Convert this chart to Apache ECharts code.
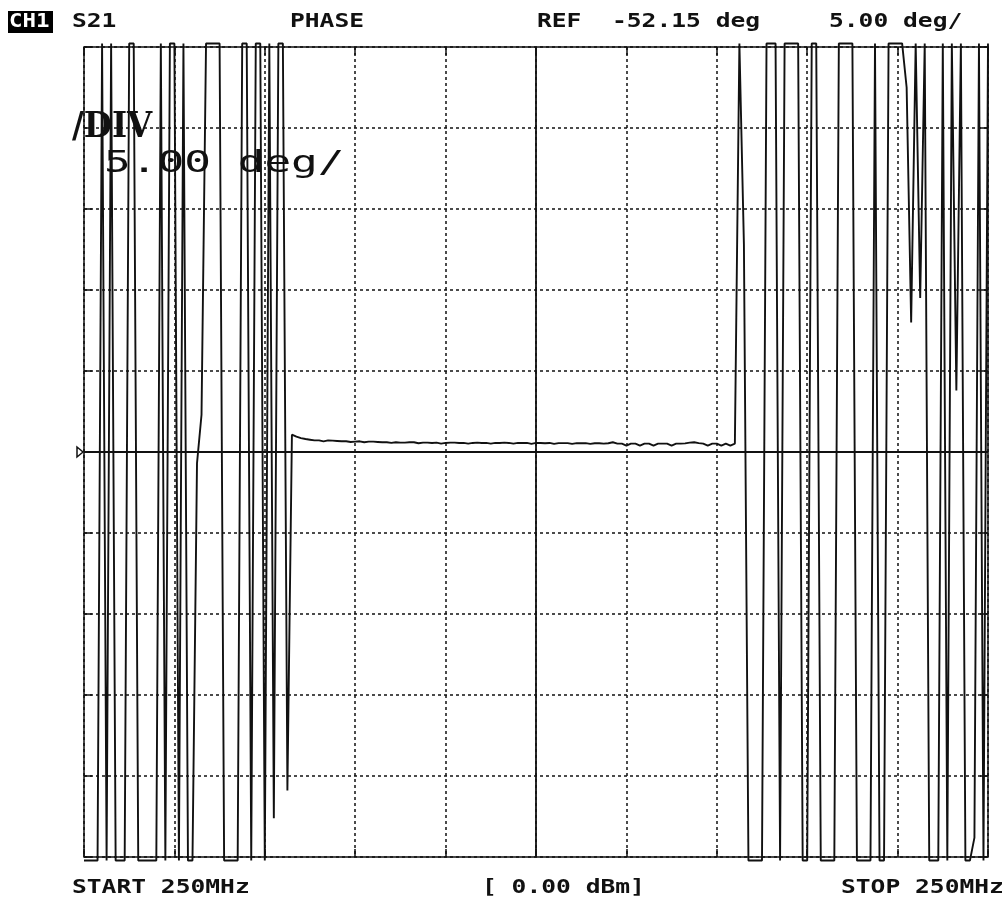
<!DOCTYPE html>
<html>
<head>
<meta charset="utf-8">
<script src="https://cdn.jsdelivr.net/npm/echarts@6/dist/echarts.min.js"></script>
<style>
  html, body { margin: 0; padding: 0; background: #fff; }
  #chart { width: 1008px; height: 902px; }
</style>
</head>
<body>
<div id="chart"></div>
<script>
// off-scale points are pinned just outside the graticule, like the analyzer does
var HI = 25.22, LO = -25.22;

// phase relative to REF (deg), one value per sweep point (201 points)
var leftWrap = [
  LO, LO, LO, LO, HI, LO, HI, LO, LO, LO,
  HI, HI, LO, LO, LO, LO, LO, HI, LO, HI,
  HI, LO, HI, LO, LO, -0.7, 2.3, HI, HI, HI,
  HI, LO, LO, LO, LO, HI, HI, LO, HI, HI,
  LO, HI, -22.6, HI, HI, -20.9
];
var flatTrace = [
  1.07, 0.95, 0.86, 0.80, 0.76, 0.72, 0.72, 0.66, 0.72, 0.70,
  0.68, 0.66, 0.66, 0.62, 0.64, 0.66, 0.60, 0.64, 0.64, 0.62,
  0.60, 0.60, 0.56, 0.60, 0.58, 0.58, 0.60, 0.60, 0.54, 0.58,
  0.58, 0.56, 0.58, 0.52, 0.56, 0.58, 0.58, 0.56, 0.56, 0.52,
  0.56, 0.58, 0.56, 0.56, 0.52, 0.56, 0.56, 0.58, 0.56, 0.52,
  0.56, 0.56, 0.56, 0.50, 0.56, 0.56, 0.54, 0.56, 0.50, 0.55,
  0.55, 0.55, 0.50, 0.55, 0.54, 0.55, 0.50, 0.54, 0.54, 0.52,
  0.54, 0.60, 0.52, 0.52, 0.40, 0.52, 0.52, 0.40, 0.52, 0.52,
  0.40, 0.52, 0.52, 0.52, 0.40, 0.52, 0.52, 0.53, 0.58, 0.60,
  0.55, 0.52, 0.40, 0.52, 0.52, 0.40, 0.52, 0.40, 0.52
];
var rightWrap = [
  HI, 12.8, LO, LO, LO, LO, HI, HI, HI, LO,
  HI, HI, HI, HI, LO, LO, HI, HI, LO, LO,
  LO, LO, HI, HI, HI, HI, LO, LO, LO, LO,
  HI, LO, LO, HI, HI, HI, HI, 22.5, 8.0, HI,
  9.5, HI, LO, LO, LO, HI, LO, HI, 3.8, HI,
  LO, LO, -23.8, HI, LO, HI
];
var traceDeg = leftWrap.concat(flatTrace, rightWrap);

var headerTexts = [
  { text: 'S21', x: 72 },
  { text: 'PHASE', x: 290 },
  { text: 'REF', x: 537 },
  { text: '-52.15 deg', x: 612 },
  { text: '5.00 deg/', x: 829 }
];
var footerTexts = [
  { text: 'START 250MHz', x: 72 },
  { text: '[ 0.00 dBm]', x: 482 },
  { text: 'STOP 250MHz', x: 841 }
];

var chart = echarts.init(document.getElementById('chart'));
var ink = '#111';
var monoBold = 'bold 20px "DejaVu Sans Mono"';

var traceData = traceDeg.map(function (v, i) { return [i, v]; });

function dotted() {
  return { show: true, lineStyle: { color: ink, width: 1.5, type: [3, 3] } };
}
function innerTick() {
  return { show: true, inside: true, length: 8, lineStyle: { color: ink, width: 1.5 } };
}
function hiddenLine() {
  return { show: false, onZero: false };
}

var graphics = [];
graphics.push({
  type: 'rect', shape: { x: 8, y: 11, width: 45, height: 22 },
  style: { fill: '#000' }
});
graphics.push({
  type: 'text', x: 9, y: 22, scaleX: 1.12,
  style: { text: 'CH1', font: monoBold, fill: '#fff', align: 'left', verticalAlign: 'middle' }
});
headerTexts.forEach(function (t) {
  graphics.push({
    type: 'text', x: t.x, y: 22, scaleX: 1.23,
    style: { text: t.text, font: monoBold, fill: ink, align: 'left', verticalAlign: 'middle' }
  });
});
footerTexts.forEach(function (t) {
  graphics.push({
    type: 'text', x: t.x, y: 888, scaleX: 1.23,
    style: { text: t.text, font: monoBold, fill: ink, align: 'left', verticalAlign: 'middle' }
  });
});
// big scale annotation inside the graticule
graphics.push({
  type: 'text', x: 72, y: 128, scaleX: 0.9, z: 10,
  style: { text: '/DIV', font: 'bold 36px "DejaVu Serif"', fill: ink, align: 'left', verticalAlign: 'middle' }
});
graphics.push({
  type: 'text', x: 104, y: 164, scaleX: 1.48, z: 10,
  style: { text: '5.00 deg/', font: '30px "DejaVu Sans Mono"', fill: ink, align: 'left', verticalAlign: 'middle' }
});

chart.setOption({
  animation: false,
  backgroundColor: '#fff',
  grid: {
    left: 84, top: 47, width: 904, height: 810,
    show: true, borderColor: ink, borderWidth: 1.5, backgroundColor: 'transparent'
  },
  xAxis: [
    { type: 'value', min: 0, max: 200, interval: 20, position: 'bottom',
      axisLine: hiddenLine(), axisLabel: { show: false }, axisTick: innerTick(), splitLine: dotted() },
    { type: 'value', min: 0, max: 200, interval: 20, position: 'top',
      axisLine: hiddenLine(), axisLabel: { show: false }, axisTick: innerTick(), splitLine: { show: false } }
  ],
  yAxis: [
    { type: 'value', min: -25, max: 25, interval: 5, position: 'left',
      axisLine: hiddenLine(), axisLabel: { show: false }, axisTick: innerTick(), splitLine: dotted() },
    { type: 'value', min: -25, max: 25, interval: 5, position: 'right',
      axisLine: hiddenLine(), axisLabel: { show: false }, axisTick: innerTick(), splitLine: { show: false } }
  ],
  series: [{
    type: 'line',
    data: traceData,
    showSymbol: false,
    clip: false,
    lineStyle: { color: ink, width: 1.9 },
    markLine: {
      silent: true, symbol: 'none', label: { show: false },
      lineStyle: { color: ink, width: 1.8, type: 'solid' },
      data: [{ yAxis: 0 }, { xAxis: 100 }]
    }
  }],
  graphic: graphics
});

// reference-level marker on the left edge
var refY = chart.convertToPixel({ yAxisIndex: 0 }, 0);
var leftX = chart.convertToPixel({ xAxisIndex: 0 }, 0);
chart.setOption({
  graphic: graphics.concat([{
    type: 'polygon',
    shape: { points: [[leftX - 7, refY - 5], [leftX - 1, refY], [leftX - 7, refY + 5]] },
    style: { fill: '#fff', stroke: ink, lineWidth: 1.5 }
  }])
});
</script>
</body>
</html>
